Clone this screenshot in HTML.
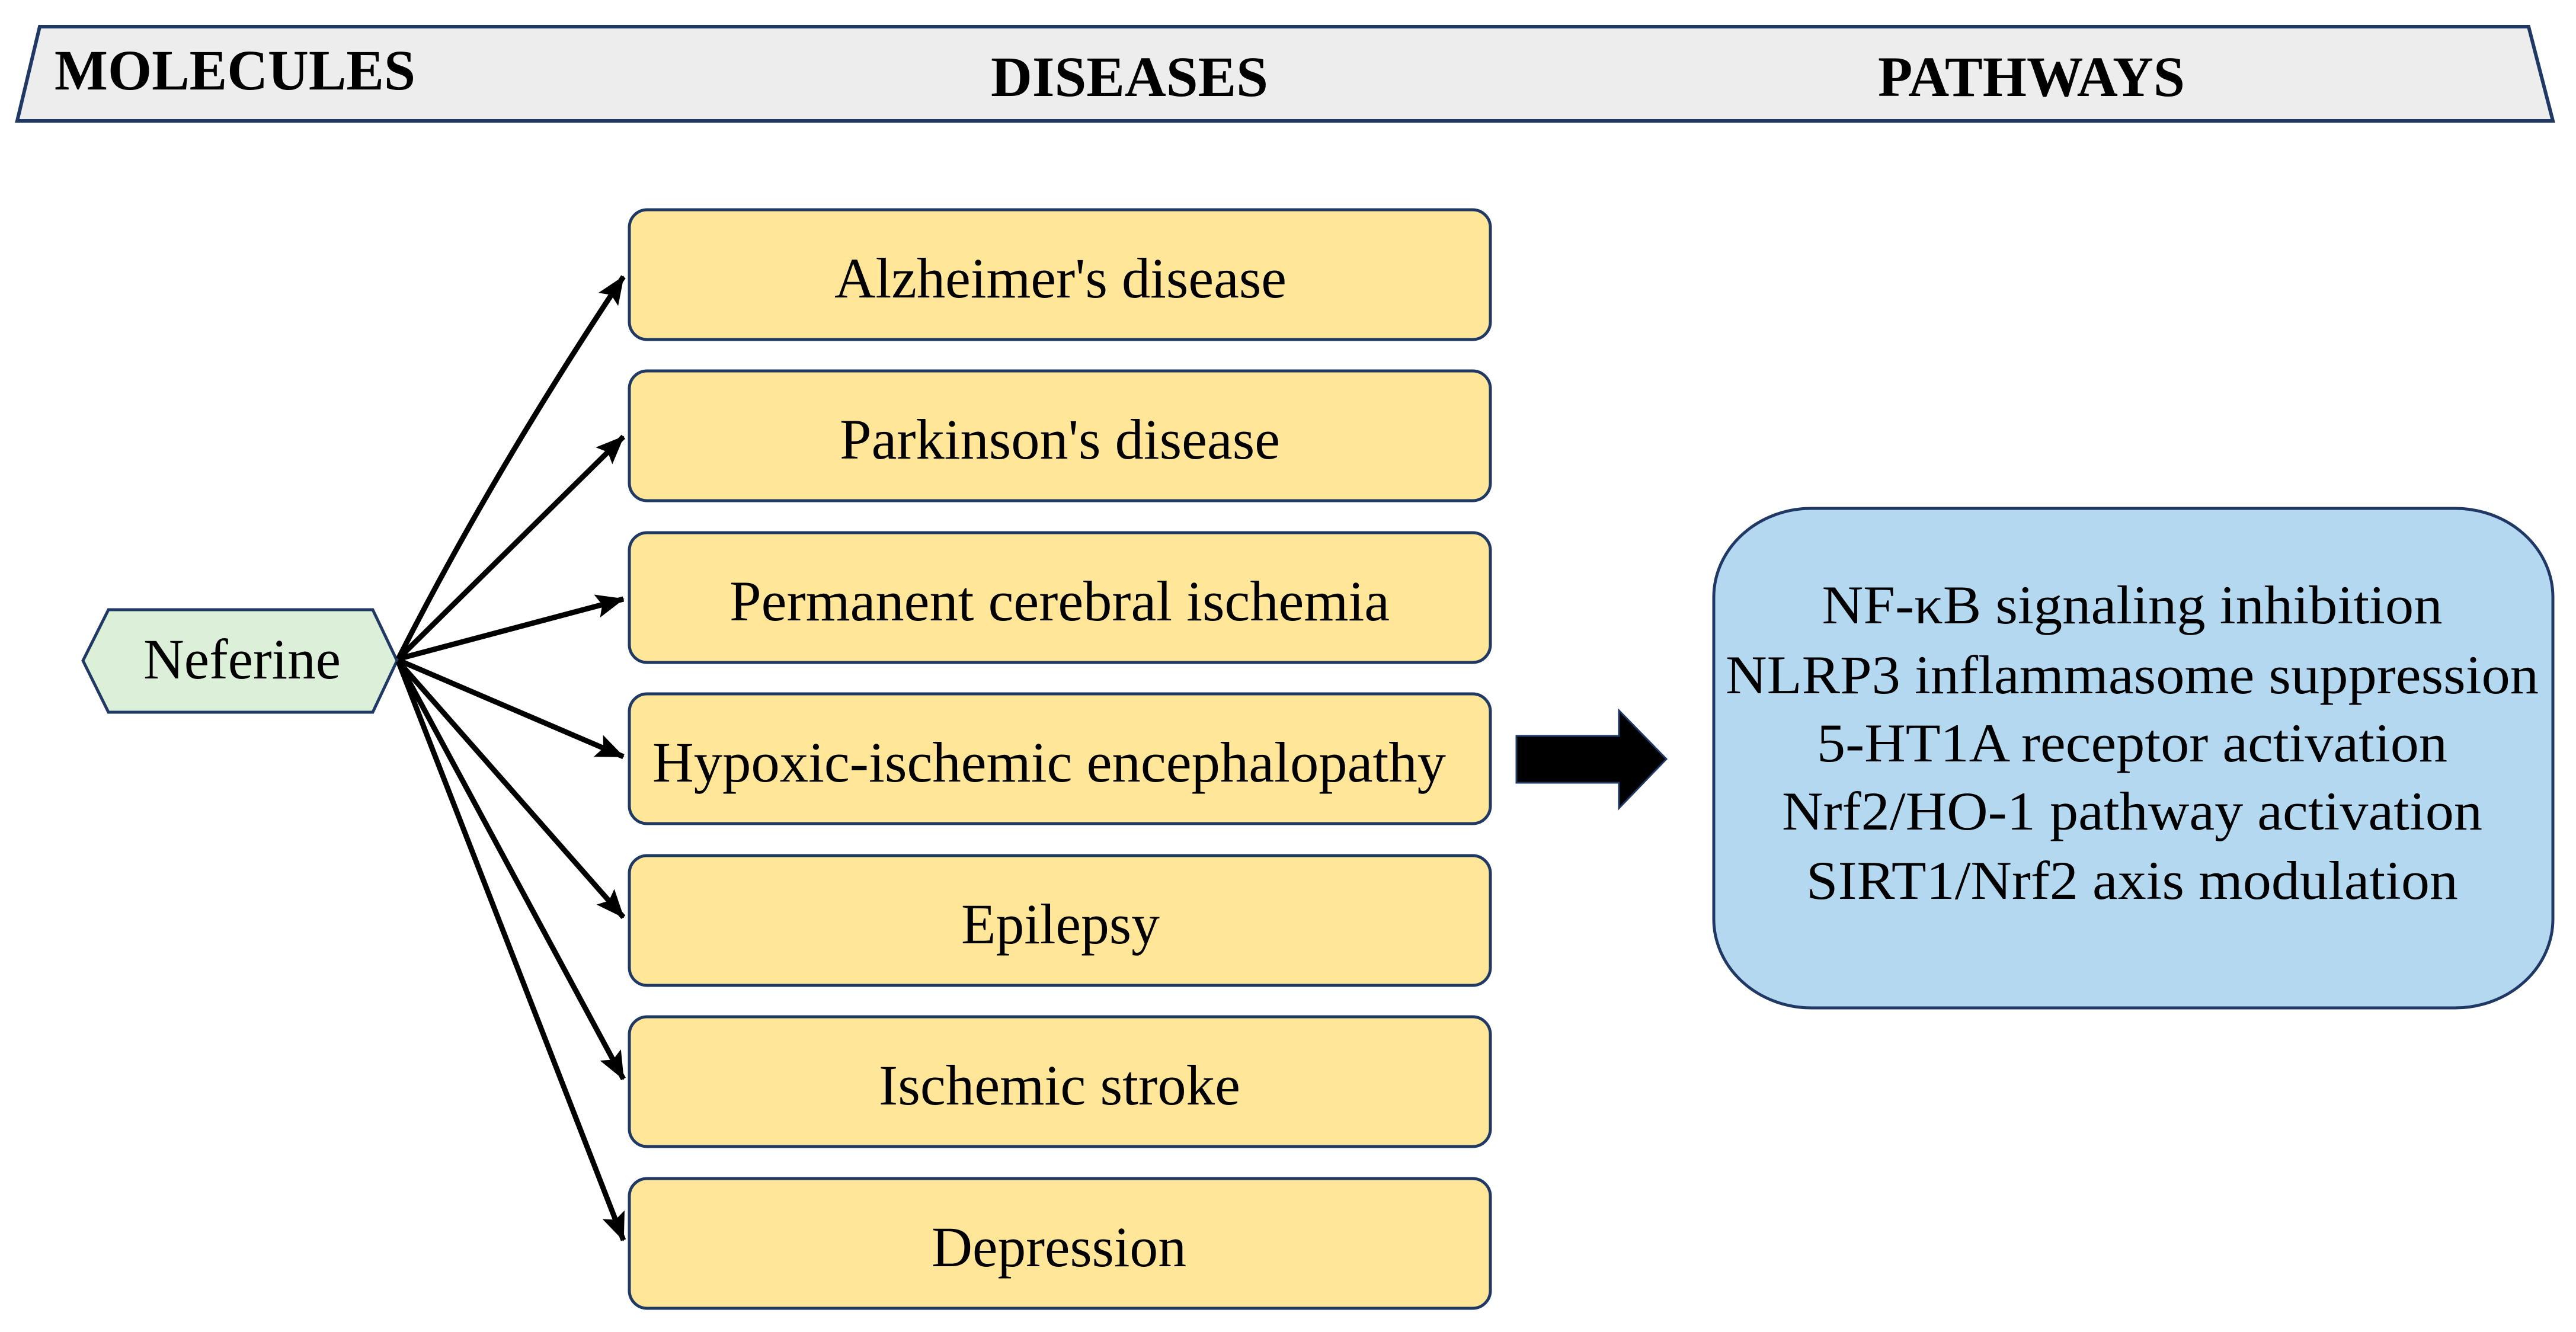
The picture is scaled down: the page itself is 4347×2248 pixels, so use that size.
<!DOCTYPE html>
<html><head><meta charset="utf-8"><style>
html,body{margin:0;padding:0;background:#fff;}
svg{display:block;}
text{font-family:"Liberation Serif","Times New Roman",serif;fill:#000;}
</style></head><body>
<svg width="4347" height="2248" viewBox="0 0 4347 2248" xmlns="http://www.w3.org/2000/svg">
<defs>
<marker id="ah" markerUnits="userSpaceOnUse" markerWidth="48" markerHeight="40" refX="46" refY="20" orient="auto">
<path d="M0,0 L48,20 L0,40 L9,20 Z" fill="#000"/>
</marker>
</defs>
<polygon points="67,45 4267,45 4308,204 29,204" fill="#ededed" stroke="#1f3864" stroke-width="6"/>
<text x="92" y="151" font-size="96" font-weight="bold" textLength="609" lengthAdjust="spacingAndGlyphs">MOLECULES</text>
<text x="1672" y="162" font-size="96" font-weight="bold" textLength="468" lengthAdjust="spacingAndGlyphs">DISEASES</text>
<text x="3169" y="162" font-size="96" font-weight="bold" textLength="518" lengthAdjust="spacingAndGlyphs">PATHWAYS</text>

<polygon points="140,1115 183,1029 629,1029 670,1115 629,1202 183,1202" fill="#dcefd9" stroke="#1f3864" stroke-width="5"/>
<text x="242" y="1145" font-size="96" textLength="333" lengthAdjust="spacingAndGlyphs">Neferine</text>

<g stroke="#000" stroke-width="9" fill="none" marker-end="url(#ah)">
<path d="M672,1112 Q830,800 1052,467"/>
<line x1="672" y1="1112" x2="1052" y2="737"/>
<line x1="672" y1="1112" x2="1052" y2="1011"/>
<line x1="672" y1="1114" x2="1052" y2="1277"/>
<line x1="672" y1="1116" x2="1052" y2="1548"/>
<line x1="672" y1="1116" x2="1052" y2="1821"/>
<line x1="672" y1="1116" x2="1052" y2="2093"/>
</g>

<g fill="#ffe699" stroke="#1f3864" stroke-width="5">
<rect x="1062" y="354" width="1453" height="219" rx="30"/>
<rect x="1062" y="626" width="1453" height="219" rx="30"/>
<rect x="1062" y="899" width="1453" height="219" rx="30"/>
<rect x="1062" y="1171" width="1453" height="219" rx="30"/>
<rect x="1062" y="1444" width="1453" height="219" rx="30"/>
<rect x="1062" y="1716" width="1453" height="219" rx="30"/>
<rect x="1062" y="1989" width="1453" height="219" rx="30"/>
</g>
<g font-size="96">
<text x="1408" y="502" textLength="763" lengthAdjust="spacingAndGlyphs">Alzheimer's disease</text>
<text x="1417" y="774" textLength="743" lengthAdjust="spacingAndGlyphs">Parkinson's disease</text>
<text x="1231" y="1047" textLength="1114" lengthAdjust="spacingAndGlyphs">Permanent cerebral ischemia</text>
<text x="1101" y="1319" textLength="1339" lengthAdjust="spacingAndGlyphs">Hypoxic-ischemic encephalopathy</text>
<text x="1622" y="1592" textLength="335" lengthAdjust="spacingAndGlyphs">Epilepsy</text>
<text x="1483" y="1864" textLength="610" lengthAdjust="spacingAndGlyphs">Ischemic stroke</text>
<text x="1572" y="2137" textLength="430" lengthAdjust="spacingAndGlyphs">Depression</text>
</g>

<polygon points="2559,1242 2732,1242 2732,1199 2812,1281 2732,1364 2732,1321 2559,1321" fill="#000" stroke="#1f3864" stroke-width="3"/>

<rect x="2892" y="858" width="1416" height="843" rx="165" ry="150" fill="#b4d8ef" stroke="#1f3864" stroke-width="5"/>
<g font-size="92" text-anchor="middle">
<text x="3598" y="1052" textLength="1047" lengthAdjust="spacingAndGlyphs">NF-κB signaling inhibition</text>
<text x="3598" y="1170" textLength="1372" lengthAdjust="spacingAndGlyphs">NLRP3 inflammasome suppression</text>
<text x="3598" y="1285" textLength="1064" lengthAdjust="spacingAndGlyphs">5-HT1A receptor activation</text>
<text x="3598" y="1400" textLength="1182" lengthAdjust="spacingAndGlyphs">Nrf2/HO-1 pathway activation</text>
<text x="3598" y="1517" textLength="1100" lengthAdjust="spacingAndGlyphs">SIRT1/Nrf2 axis modulation</text>
</g>
</svg>
</body></html>
